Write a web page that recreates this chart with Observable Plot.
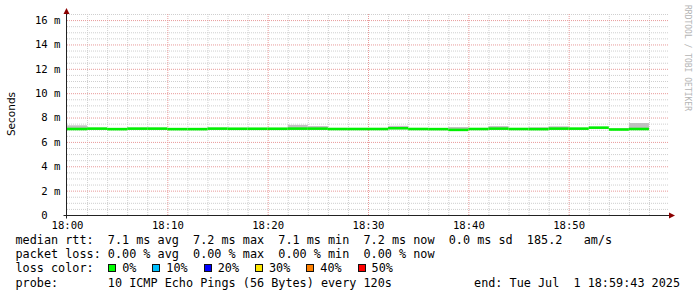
<!DOCTYPE html>
<html>
<head>
<meta charset="utf-8">
<script src="https://cdn.jsdelivr.net/npm/d3@7"></script>
<script src="https://cdn.jsdelivr.net/npm/@observablehq/plot@0.6"></script>
<style>
html,body{margin:0;padding:0;background:#fff;}
#wrap{position:relative;width:697px;height:297px;overflow:hidden;font-family:"DejaVu Sans Mono",monospace;color:#000;}
#chart{position:absolute;left:0;top:0;}
#ylabel{position:absolute;left:11px;top:114px;transform:translate(-50%,-50%) rotate(-90deg);font-family:"DejaVu Sans",sans-serif;font-size:10.5px;white-space:nowrap;}
#wm{position:absolute;left:682.5px;top:5px;writing-mode:vertical-rl;font-size:8px;line-height:9px;color:#b4b4b4;white-space:nowrap;}
#legend{position:absolute;left:15.5px;top:233px;width:664.5px;font-size:11.8px;line-height:14.2px;}
#legend .ln{position:relative;height:14.2px;white-space:pre;}
#legend .sq{display:inline-block;box-sizing:border-box;width:8px;height:8px;border:1px solid #111;margin-right:6px;vertical-align:baseline;}
#legend .end{position:absolute;right:0;top:0;}
</style>
</head>
<body>
<div id="wrap">
  <div id="chart"></div>
  <div id="ylabel"></div>
  <div id="wm"></div>
  <div id="legend"></div>
</div>
<script>
// ---- data (minutes after 18:00, step 120 s) ----
const stepStart = [0,2,4,6,8,10,12,14,16,18,20,22,24,26,28,30,32,34,36,38,40,42,44,46,48,50,52,54,56];
const medianMs  = [7.10,7.13,7.09,7.13,7.13,7.09,7.09,7.13,7.12,7.12,7.12,7.13,7.13,7.10,7.10,7.10,7.16,7.10,7.09,7.03,7.10,7.13,7.10,7.09,7.13,7.13,7.21,7.06,7.10];
const smokeLoMs = [7.12,7.10,7.08,7.10,7.05,7.08,7.08,7.10,7.10,7.10,7.06,7.05,7.10,7.08,7.08,7.02,7.12,7.08,7.08,7.05,7.08,7.12,7.08,7.09,7.12,7.10,7.18,7.05,7.10];
const smokeHiMs = [7.36,7.16,7.12,7.16,7.16,7.12,7.12,7.16,7.15,7.15,7.15,7.40,7.30,7.14,7.13,7.13,7.32,7.13,7.12,7.22,7.13,7.30,7.13,7.20,7.28,7.15,7.24,7.10,7.55];
const stepMinutes = 2;

const xTicks = [0,10,20,30,40,50];
const xTickLabels = ["18:00","18:10","18:20","18:30","18:40","18:50"];
const yTicks = [0,2,4,6,8,10,12,14,16];
const yTickLabels = ["0","2 m","4 m","6 m","8 m","10 m","12 m","14 m","16 m"];

const lossLabels = ["0%","10%","20%","30%","40%","50%"];
const lossColors = ["#00ff00","#00c0ff","#0000ff","#ffe800","#ff8000","#ff0000"];

const yAxisTitle = "Seconds";
const watermark = "RRDTOOL / TOBI OETIKER";
const legendLines = [
  "median rtt:  7.1 ms avg  7.2 ms max  7.1 ms min  7.2 ms now  0.0 ms sd  185.2   am/s",
  "packet loss: 0.00 % avg  0.00 % max  0.00 % min  0.00 % now"
];
const lossTitle = "loss color:";
const probeText = "probe:       10 ICMP Echo Pings (56 Bytes) every 120s";
const endText = "end: Tue Jul  1 18:59:43 2025";

// ---- build ----
const rows = stepStart.map((t,i)=>({t0:t, t1:t+stepMinutes, med:medianMs[i], lo:smokeLoMs[i], hi:smokeHiMs[i]}));

const minorX = d3.range(2, 60, 2).filter(v => v % 10 !== 0);
const majorX = d3.range(10, 60, 10);
const minorY = d3.range(0.5, 16.6, 0.5).filter(v => v % 2 !== 0);
const majorY = d3.range(2, 17, 2);

const minorStyle = {stroke:"#cfcfcf", strokeDasharray:"1,1"};
const majorStyle = {stroke:"#e89a9a", strokeDasharray:"1,1"};

const plot = Plot.plot({
  width: 697,
  height: 232,
  marginLeft: 67,
  marginRight: 28,
  marginTop: 14,
  marginBottom: 17,
  style: {fontFamily:"'DejaVu Sans Mono', monospace", fontSize:"10.6px", background:"transparent", color:"#000", overflow:"visible"},
  x: {domain:[0,60], ticks:xTicks, tickFormat:d => xTickLabels[xTicks.indexOf(d)], tickSize:0, tickPadding:5.5, label:null},
  y: {domain:[0,16.5], ticks:yTicks, tickFormat:d => yTickLabels[yTicks.indexOf(d)], tickSize:0, tickPadding:7, label:null},
  marks: [
    Plot.ruleX(minorX, minorStyle),
    Plot.ruleY(minorY, minorStyle),
    Plot.ruleX(majorX, majorStyle),
    Plot.ruleY(majorY, majorStyle),
    Plot.rect(rows.filter(d => d.hi > d.lo), {x1:"t0", x2:"t1", y1:"lo", y2:"hi", fill:"#c0c0c0"}),
    Plot.ruleY(rows, {y:"med", x1:"t0", x2:"t1", stroke:"#00f000", strokeWidth:2.6})
  ]
});

// the unitless "0" label sits in the digit column, as in RRDtool (unit column left blank)
d3.select(plot).selectAll("text").filter(function(){ return this.textContent === yTickLabels[0]; })
  .attr("dx", "-12.8");

// axis lines and arrows, placed from the scales
const xs = plot.scale("x"), ys = plot.scale("y");
const svg = d3.select(plot);
const x0 = Math.round(xs.apply(0)) - 0.5;
const xEnd = xs.apply(60);
const yBase = Math.round(ys.apply(0)) + 0.5;
const yTop = ys.apply(16.5);
const axisColor = "#222";
const arrowColor = "#8b0000";
svg.append("line").attr("x1", x0).attr("x2", x0).attr("y1", yBase + 3).attr("y2", yTop - 1).attr("stroke", axisColor);
svg.append("line").attr("x1", x0 - 3).attr("x2", xEnd + 1).attr("y1", yBase).attr("y2", yBase).attr("stroke", axisColor);
svg.append("path").attr("d", `M${x0-3},${yTop}L${x0+3},${yTop}L${x0},${yTop-6}Z`).attr("fill", arrowColor);
svg.append("path").attr("d", `M${xEnd},${yBase-3}L${xEnd},${yBase+3}L${xEnd+6},${yBase}Z`).attr("fill", arrowColor);

document.getElementById("chart").appendChild(plot);
document.getElementById("ylabel").textContent = yAxisTitle;
document.getElementById("wm").textContent = watermark;

const leg = document.getElementById("legend");
legendLines.forEach(t => {
  const d = document.createElement("div"); d.className = "ln"; d.textContent = t; leg.appendChild(d);
});
const lc = document.createElement("div"); lc.className = "ln";
lc.appendChild(document.createTextNode(lossTitle));
lossLabels.forEach((lab, i) => {
  const s = document.createElement("span"); s.className = "sq";
  s.style.background = lossColors[i];
  s.style.marginLeft = i === 0 ? "14.5px" : "16px";
  lc.appendChild(s);
  lc.appendChild(document.createTextNode(lab));
});
leg.appendChild(lc);
const pl = document.createElement("div"); pl.className = "ln";
pl.textContent = probeText;
const es = document.createElement("span"); es.className = "end"; es.textContent = endText;
pl.appendChild(es);
leg.appendChild(pl);
</script>
</body>
</html>
